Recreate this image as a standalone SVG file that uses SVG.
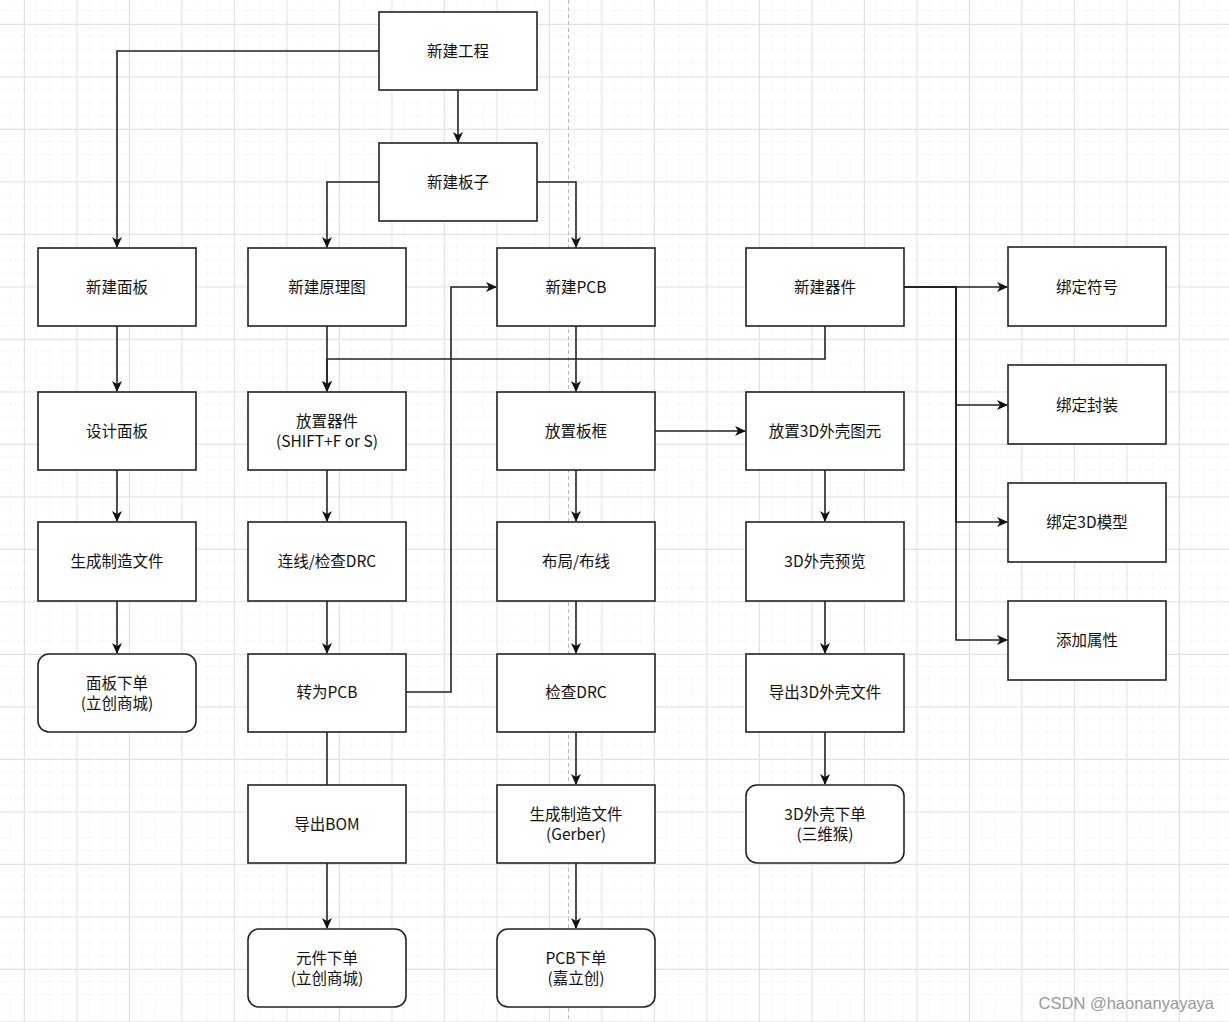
<svg xmlns="http://www.w3.org/2000/svg" width="1229" height="1022" viewBox="0 0 1229 1022">
<defs>
<pattern id="minor" x="24" y="24" width="13.125" height="13.125" patternUnits="userSpaceOnUse">
<path d="M13.125 0V13.125H0" fill="none" stroke="#f2f2f2" stroke-width="1"/>
</pattern>
<pattern id="major" x="24" y="24" width="52.5" height="52.5" patternUnits="userSpaceOnUse">
<path d="M0.5 0V52.5M0 0.5H52.5" fill="none" stroke="#e2e2e2" stroke-width="1"/>
</pattern>
<marker id="arr" viewBox="0 0 11 11" refX="10" refY="5.5" markerWidth="11" markerHeight="11" markerUnits="userSpaceOnUse" orient="auto">
<path d="M0 0.5L11 5.5L0 10.5L3 5.5Z" fill="#111"/>
</marker>
<style>
.box{fill:#fff;stroke:#222;stroke-width:1.6}
.t{font-family:"Noto Sans CJK SC","Microsoft YaHei",sans-serif;font-size:15.5px;fill:#111;text-anchor:middle;dominant-baseline:central}
.e{fill:none;stroke:#222;stroke-width:1.6}
.ea{fill:none;stroke:#222;stroke-width:1.6;marker-end:url(#arr)}
</style>
</defs>
<rect width="1229" height="1022" fill="#fff"/>
<rect width="1229" height="1022" fill="url(#minor)"/>
<rect width="1229" height="1022" fill="url(#major)"/>
<line x1="568.5" y1="0" x2="568.5" y2="1022" stroke="#bbb" stroke-width="1" stroke-dasharray="4 3"/>

<g id="connectors">
<path class="ea" d="M379 51H117V247"/>
<path class="ea" d="M458 90V142"/>
<path class="ea" d="M379 182H327V247"/>
<path class="ea" d="M537 182H576V247"/>
<path class="ea" d="M117 326V391"/>
<path class="ea" d="M117 470V521"/>
<path class="ea" d="M117 601V653"/>
<path class="ea" d="M327 326V391"/>
<path class="ea" d="M825 326V359H327V391"/>
<path class="ea" d="M327 470V521"/>
<path class="ea" d="M327 601V653"/>
<path class="ea" d="M406 692H451V287H496"/>
<path class="e" d="M327 732V785"/>
<path class="ea" d="M327 863V928"/>
<path class="ea" d="M576 326V391"/>
<path class="ea" d="M576 470V521"/>
<path class="ea" d="M576 601V653"/>
<path class="ea" d="M576 732V784"/>
<path class="ea" d="M576 863V928"/>
<path class="ea" d="M655 431H745"/>
<path class="ea" d="M825 470V521"/>
<path class="ea" d="M825 601V653"/>
<path class="ea" d="M825 732V784"/>
<path class="ea" d="M904 287H1007"/>
<path class="ea" d="M904 287H956V405H1007"/>
<path class="ea" d="M904 287H956V522H1007"/>
<path class="ea" d="M904 287H956V640H1007"/>
</g>

<g id="n-xinjiangongcheng"><rect class="box" x="379" y="12" width="158" height="78"/><text class="t" x="458" y="50">新建工程</text></g>
<g id="n-xinjianbanzi"><rect class="box" x="379" y="143" width="158" height="78"/><text class="t" x="458" y="181">新建板子</text></g>

<g id="n-xinjianmianban"><rect class="box" x="38" y="248" width="158" height="78"/><text class="t" x="117" y="286">新建面板</text></g>
<g id="n-shejimianban"><rect class="box" x="38" y="392" width="158" height="78"/><text class="t" x="117" y="430">设计面板</text></g>
<g id="n-shengchengzhizao1"><rect class="box" x="38" y="522" width="158" height="79"/><text class="t" x="117" y="560">生成制造文件</text></g>
<g id="n-mianbanxiadan"><rect class="box" x="38" y="654" width="158" height="78" rx="11"/><text class="t" x="117" y="682">面板下单</text><text class="t" x="117" y="702">(立创商城)</text></g>

<g id="n-xinjianyuanlitu"><rect class="box" x="248" y="248" width="158" height="78"/><text class="t" x="327" y="286">新建原理图</text></g>
<g id="n-fangzhiqijian"><rect class="box" x="248" y="392" width="158" height="78"/><text class="t" x="327" y="420">放置器件</text><text class="t" x="327" y="440">(SHIFT+F or S)</text></g>
<g id="n-lianxian"><rect class="box" x="248" y="522" width="158" height="79"/><text class="t" x="327" y="560">连线/检查DRC</text></g>
<g id="n-zhuanweipcb"><rect class="box" x="248" y="654" width="158" height="78"/><text class="t" x="327" y="691">转为PCB</text></g>
<g id="n-daochubom"><rect class="box" x="248" y="785" width="158" height="78"/><text class="t" x="327" y="823">导出BOM</text></g>
<g id="n-yuanjianxiadan"><rect class="box" x="248" y="929" width="158" height="78" rx="11"/><text class="t" x="327" y="957">元件下单</text><text class="t" x="327" y="977">(立创商城)</text></g>

<g id="n-xinjianpcb"><rect class="box" x="497" y="248" width="158" height="78"/><text class="t" x="576" y="286">新建PCB</text></g>
<g id="n-fangzhibankuang"><rect class="box" x="497" y="392" width="158" height="78"/><text class="t" x="576" y="430">放置板框</text></g>
<g id="n-buju"><rect class="box" x="497" y="522" width="158" height="79"/><text class="t" x="576" y="560">布局/布线</text></g>
<g id="n-jianchadrc"><rect class="box" x="497" y="654" width="158" height="78"/><text class="t" x="576" y="691">检查DRC</text></g>
<g id="n-gerber"><rect class="box" x="497" y="785" width="158" height="78"/><text class="t" x="576" y="813">生成制造文件</text><text class="t" x="576" y="833">(Gerber)</text></g>
<g id="n-pcbxiadan"><rect class="box" x="497" y="929" width="158" height="78" rx="11"/><text class="t" x="576" y="957">PCB下单</text><text class="t" x="576" y="977">(嘉立创)</text></g>

<g id="n-xinjianqijian"><rect class="box" x="746" y="248" width="158" height="78"/><text class="t" x="825" y="286">新建器件</text></g>
<g id="n-fangzhi3d"><rect class="box" x="746" y="392" width="158" height="78"/><text class="t" x="825" y="430">放置3D外壳图元</text></g>
<g id="n-3dyulan"><rect class="box" x="746" y="522" width="158" height="79"/><text class="t" x="825" y="560">3D外壳预览</text></g>
<g id="n-daochu3d"><rect class="box" x="746" y="654" width="158" height="78"/><text class="t" x="825" y="691">导出3D外壳文件</text></g>
<g id="n-3dxiadan"><rect class="box" x="746" y="785" width="158" height="78" rx="11"/><text class="t" x="825" y="813">3D外壳下单</text><text class="t" x="825" y="833">(三维猴)</text></g>

<g id="n-bangdingfuhao"><rect class="box" x="1008" y="247" width="158" height="79"/><text class="t" x="1087" y="286">绑定符号</text></g>
<g id="n-bangdingfengzhuang"><rect class="box" x="1008" y="365" width="158" height="79"/><text class="t" x="1087" y="404">绑定封装</text></g>
<g id="n-bangding3d"><rect class="box" x="1008" y="483" width="158" height="79"/><text class="t" x="1087" y="521">绑定3D模型</text></g>
<g id="n-tianjiashuxing"><rect class="box" x="1008" y="601" width="158" height="79"/><text class="t" x="1087" y="639">添加属性</text></g>

<text x="1214" y="1009" style="font-family:'Liberation Sans',Arial,sans-serif;font-size:16.5px;fill:#999;text-anchor:end">CSDN @haonanyayaya</text>
</svg>
